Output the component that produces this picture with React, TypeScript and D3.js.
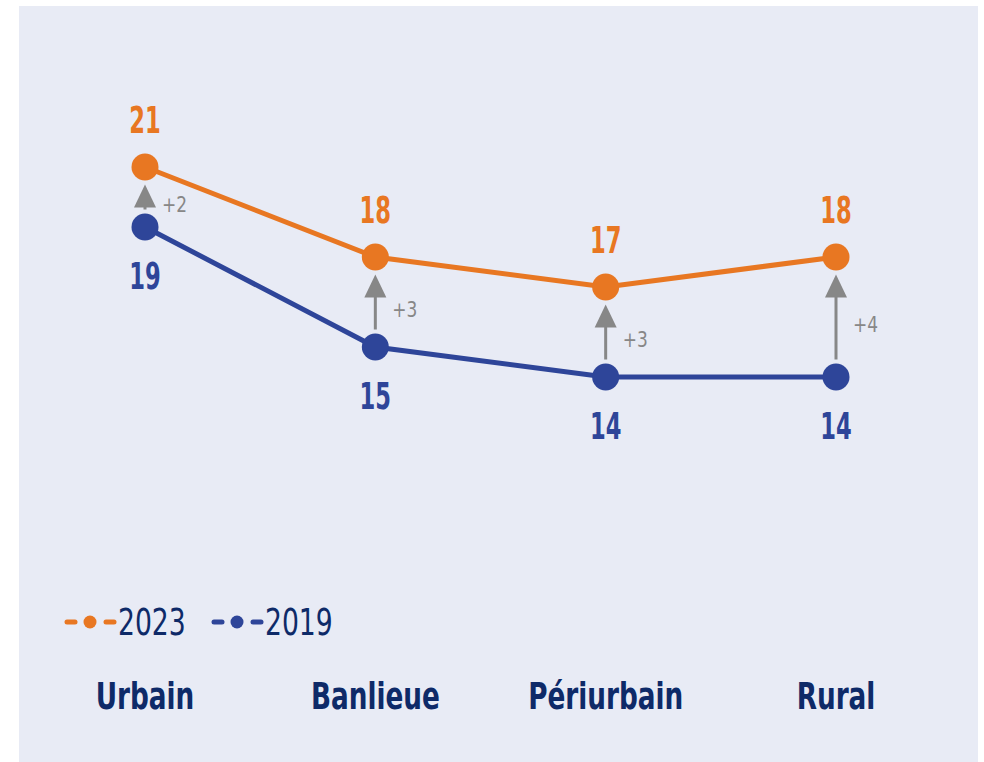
import { useEffect, useRef } from "react";
import * as d3 from "d3";

const categories = ["Urbain", "Banlieue", "Périurbain", "Rural"];
const values2023 = [21, 18, 17, 18];
const values2019 = [19, 15, 14, 14];
const deltaLabels = ["+2", "+3", "+3", "+4"];
const legendLabels = ["2023", "2019"];

const ORANGE = "#e87722";
const BLUE = "#2e4599";
const NAVY = "#0e2a68";
const GRAY = "#878787";
const FONT = "'DejaVu Sans Condensed', 'DejaVu Sans', sans-serif";

type G = d3.Selection<SVGGElement, unknown, null, undefined>;

// texte étroit : police condensée compressée horizontalement
function narrowText(
  parent: G,
  x: number,
  y: number,
  txt: string,
  opts: { size: number; sx: number; weight?: number; color: string; anchor?: string }
) {
  parent
    .append("text")
    .attr("transform", `translate(${x},${y}) scale(${opts.sx},1)`)
    .attr("text-anchor", opts.anchor ?? "start")
    .attr("fill", opts.color)
    .attr("font-family", FONT)
    .attr("font-weight", opts.weight ?? 400)
    .attr("font-size", opts.size)
    .text(txt);
}

export default function App() {
  const svgRef = useRef<SVGSVGElement | null>(null);
  const width = 984;
  const height = 762;

  useEffect(() => {
    if (!svgRef.current) return;
    const svg = d3.select(svgRef.current);
    svg.selectAll("*").remove();

    // fond du panneau
    svg
      .append("rect")
      .attr("x", 19)
      .attr("y", 6)
      .attr("width", 959)
      .attr("height", height - 6)
      .attr("fill", "#e8ebf5");

    const x = d3.scalePoint<string>().domain(categories).range([145, 836]);
    const y = d3.scaleLinear().domain([14, 21]).range([377, 167]);
    const r = 13.5;

    const line = d3
      .line<number>()
      .x((_, i) => x(categories[i]) as number)
      .y((d) => y(d));

    // flèches d'évolution
    const arrows = svg.append("g") as G;
    categories.forEach((c, i) => {
      const cx = x(c) as number;
      const top = y(values2023[i]) + r + 4;
      const bottom = y(values2019[i]) - r - 4;
      const headH = 23;
      arrows
        .append("line")
        .attr("x1", cx)
        .attr("x2", cx)
        .attr("y1", bottom)
        .attr("y2", top + headH - 2)
        .attr("stroke", GRAY)
        .attr("stroke-width", 3);
      arrows
        .append("path")
        .attr(
          "d",
          `M${cx},${top} L${cx - 11},${top + headH} L${cx + 11},${top + headH} Z`
        )
        .attr("fill", GRAY);
      const mid = (y(values2023[i]) + y(values2019[i])) / 2;
      narrowText(arrows, cx + 17, mid + 15, deltaLabels[i], {
        size: 22,
        sx: 0.86,
        color: GRAY,
      });
    });

    const series = [
      { values: values2023, color: ORANGE, above: true },
      { values: values2019, color: BLUE, above: false },
    ];

    series.forEach((s) => {
      svg
        .append("path")
        .datum(s.values)
        .attr("d", line)
        .attr("fill", "none")
        .attr("stroke", s.color)
        .attr("stroke-width", 5);
      svg
        .append("g")
        .selectAll("circle")
        .data(s.values)
        .enter()
        .append("circle")
        .attr("cx", (_, i) => x(categories[i]) as number)
        .attr("cy", (d) => y(d))
        .attr("r", r)
        .attr("fill", s.color);
      const labels = svg.append("g") as G;
      s.values.forEach((d, i) => {
        narrowText(
          labels,
          x(categories[i]) as number,
          s.above ? y(d) - 34 : y(d) + 62,
          String(d),
          { size: 37, sx: 0.68, weight: 700, color: s.color, anchor: "middle" }
        );
      });
    });

    // légende
    const legend = svg.append("g") as G;
    const legendX = [65, 212];
    const legendColors = [ORANGE, BLUE];
    legendLabels.forEach((lab, i) => {
      const lx = legendX[i];
      const ly = 622;
      [
        [lx + 2, lx + 10],
        [lx + 41, lx + 49],
      ].forEach(([a, b]) =>
        legend
          .append("line")
          .attr("x1", a)
          .attr("x2", b)
          .attr("y1", ly)
          .attr("y2", ly)
          .attr("stroke", legendColors[i])
          .attr("stroke-width", 5)
          .attr("stroke-linecap", "round")
      );
      legend
        .append("circle")
        .attr("cx", lx + 25)
        .attr("cy", ly)
        .attr("r", 6.5)
        .attr("fill", legendColors[i]);
      narrowText(legend, lx + 53, 635, lab, { size: 37, sx: 0.8, color: NAVY });
    });

    // libellés des catégories
    const cats = svg.append("g") as G;
    categories.forEach((c) => {
      narrowText(cats, x(c) as number, 709, c, {
        size: 37,
        sx: 0.79,
        weight: 700,
        color: NAVY,
        anchor: "middle",
      });
    });
  }, []);

  return (
    <svg
      ref={svgRef}
      width={width}
      height={height}
      style={{ position: "absolute", left: 0, top: 0, background: "#fff" }}
    />
  );
}
